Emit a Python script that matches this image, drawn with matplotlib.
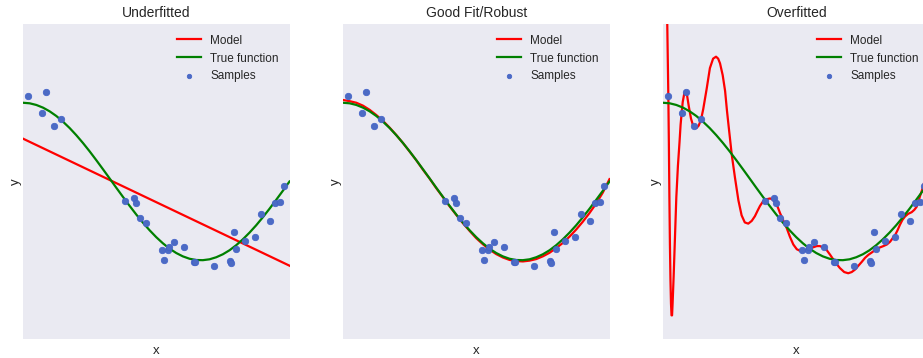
import matplotlib
matplotlib.use("Agg")
import matplotlib.pyplot as plt

# ── Data ─────────────────────────────────────────────────────────────────────

titles = ["Underfitted", "Good Fit/Robust", "Overfitted"]

x_samples = [0.020, 0.071, 0.087, 0.118, 0.143, 0.383, 0.415, 0.424, 0.438, 0.462,
             0.522, 0.529, 0.545, 0.549, 0.568, 0.603, 0.640, 0.646, 0.715, 0.778,
             0.781, 0.792, 0.799, 0.833, 0.870, 0.892, 0.926, 0.945, 0.964, 0.979]
y_samples = [1.086, 0.874, 1.140, 0.705, 0.790, -0.248, -0.213, -0.269, -0.460, -0.531,
             -0.866, -0.993, -0.874, -0.832, -0.768, -0.832, -1.022, -1.022, -1.077, -1.006,
             -1.031, -0.637, -0.861, -0.756, -0.701, -0.413, -0.506, -0.277, -0.260, -0.057]

# true function, sampled every 0.025
x_true = [i / 40 for i in range(41)]
y_true = [1.000, 0.993, 0.972, 0.938, 0.891, 0.832, 0.760, 0.679, 0.588, 0.489,
          0.383, 0.271, 0.156, 0.039, -0.079, -0.195, -0.309, -0.419, -0.523, -0.619,
          -0.707, -0.785, -0.853, -0.908, -0.951, -0.981, -0.997, -0.999, -0.988, -0.962,
          -0.924, -0.873, -0.809, -0.734, -0.649, -0.556, -0.454, -0.346, -0.233, -0.118,
          0.000]

# degree 1 model
x_under = [0.0, 1.0]
y_under = [0.544, -1.069]

# degree 4 model
x_good = [i / 40 for i in range(41)]
y_good = [1.035, 1.020, 1.000, 0.963, 0.910, 0.844, 0.770, 0.684, 0.590, 0.489,
          0.380, 0.270, 0.150, 0.037, -0.085, -0.199, -0.315, -0.424, -0.530, -0.627,
          -0.720, -0.797, -0.865, -0.922, -0.965, -0.996, -1.010, -1.015, -1.005, -0.985,
          -0.950, -0.905, -0.845, -0.780, -0.700, -0.610, -0.510, -0.400, -0.280, -0.140,
          0.030]

# degree 15 model
x_over = [0.000, 0.010, 0.016, 0.020, 0.022, 0.024, 0.026, 0.028, 0.030, 0.032,
          0.034, 0.036, 0.040, 0.045, 0.050, 0.056, 0.062, 0.066, 0.070, 0.074,
          0.080, 0.085, 0.090, 0.097, 0.105, 0.112, 0.118, 0.126, 0.134, 0.143,
          0.151, 0.164, 0.176, 0.188, 0.199, 0.207, 0.214, 0.224, 0.233, 0.240,
          0.247, 0.258, 0.270, 0.283, 0.295, 0.307, 0.320, 0.333, 0.345, 0.355,
          0.364, 0.376, 0.389, 0.402, 0.412, 0.420, 0.430, 0.439, 0.452, 0.464,
          0.476, 0.489, 0.502, 0.514, 0.527, 0.539, 0.552, 0.564, 0.577, 0.589,
          0.602, 0.614, 0.627, 0.639, 0.652, 0.664, 0.680, 0.695, 0.708, 0.720,
          0.733, 0.746, 0.758, 0.771, 0.784, 0.796, 0.812, 0.827, 0.840, 0.852,
          0.862, 0.871, 0.880, 0.889, 0.898, 0.908, 0.920, 0.933, 0.943, 0.952,
          0.958, 0.964, 0.970, 0.976, 0.988, 1.000]
y_over = [6.00, 3.20, 2.00, 1.09, 0.50, -0.20, -0.80, -1.25, -1.55, -1.70,
          -1.70, -1.55, -1.20, -0.70, -0.20, 0.20, 0.50, 0.72, 0.87, 1.01,
          1.12, 1.15, 1.10, 0.95, 0.80, 0.72, 0.70, 0.68, 0.71, 0.79,
          0.92, 1.18, 1.44, 1.56, 1.585, 1.56, 1.50, 1.35, 1.15, 0.90,
          0.68, 0.34, 0.05, -0.24, -0.43, -0.52, -0.535, -0.50, -0.44, -0.37,
          -0.31, -0.25, -0.225, -0.215, -0.23, -0.26, -0.32, -0.40, -0.50, -0.59,
          -0.70, -0.80, -0.86, -0.88, -0.88, -0.87, -0.85, -0.835, -0.82, -0.82,
          -0.84, -0.87, -0.93, -0.99, -1.05, -1.10, -1.15, -1.165, -1.15, -1.12,
          -1.07, -1.02, -0.97, -0.93, -0.90, -0.87, -0.84, -0.82, -0.80, -0.765,
          -0.72, -0.68, -0.62, -0.55, -0.49, -0.445, -0.41, -0.39, -0.36, -0.32,
          -0.26, -0.19, -0.13, -0.066, 0.10, 0.35]

models = [(x_under, y_under), (x_good, y_good), (x_over, y_over)]

# ── Figure ───────────────────────────────────────────────────────────────────

W, H = 923, 358
fig = plt.figure(figsize=(W / 100, H / 100), dpi=100)
plt.rcParams['font.family'] = ['Liberation Sans', 'DejaVu Sans']
text_color = '#262626'

lefts = [23, 343, 663]
ax_w, ax_top, ax_bot = 266.5, 24, 339

for i, left in enumerate(lefts):
    ax = fig.add_axes([left / W, 1 - ax_bot / H, ax_w / W, (ax_bot - ax_top) / H])
    ax.set_facecolor('#EAEAF2')
    for s in ax.spines.values():
        s.set_visible(False)

    mx, my = models[i]
    ax.plot(mx, my, color='red', lw=1.6, label="Model")
    ax.plot(x_true, y_true, color='green', lw=1.6, label="True function")
    ax.scatter(x_samples, y_samples, s=22, color='#4C6BC4', edgecolor='#4060C8',
               linewidth=0.5, label="Samples", zorder=3)

    ax.set_xlim(0, 1)
    ax.set_ylim(-2, 2)
    ax.set_xticks(())
    ax.set_yticks(())
    ax.set_xlabel("x", fontsize=9.5, color=text_color)
    ax.set_ylabel("y", fontsize=9.5, color=text_color, labelpad=1)
    ax.set_title(titles[i], fontsize=10, color=text_color, pad=5)
    leg = ax.legend(loc="upper right", frameon=False, fontsize=8.5, markerscale=0.7)
    for t in leg.get_texts():
        t.set_color(text_color)

fig.savefig("out.png", dpi=100, facecolor='white')
